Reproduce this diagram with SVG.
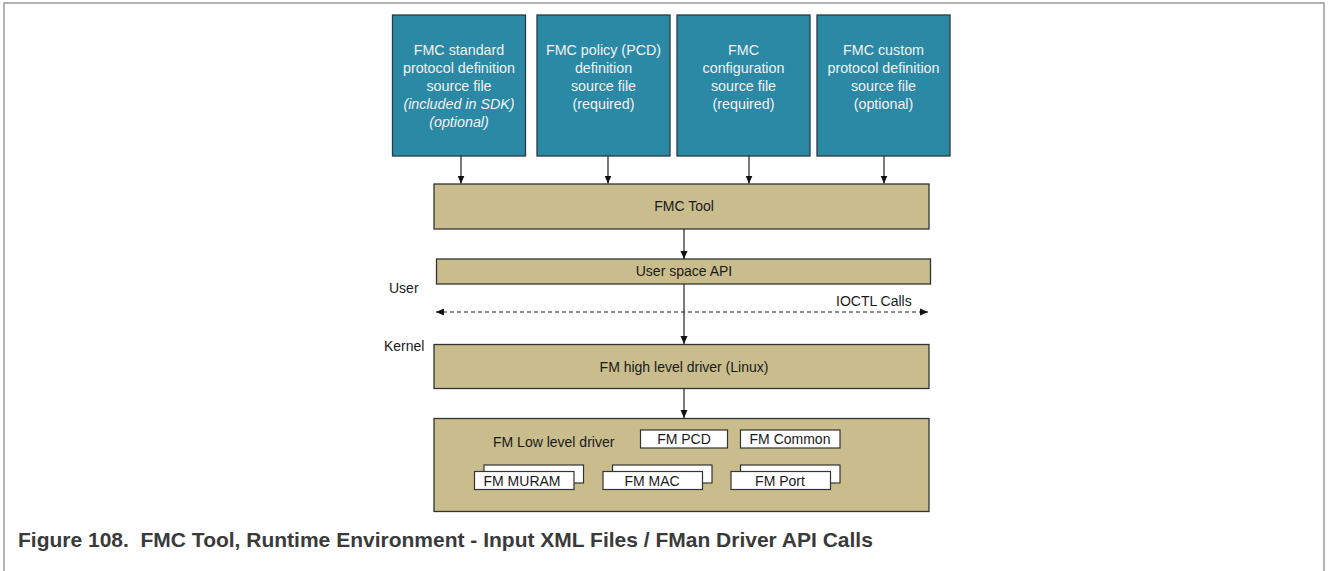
<svg xmlns="http://www.w3.org/2000/svg" width="1328" height="571" viewBox="0 0 1328 571">
<style>
text{font-family:"Liberation Sans",Arial,sans-serif;font-size:14px;}
.src rect{fill:#2b89a6;stroke:#2a3a40;stroke-width:1.3;}
.src text{fill:#f2f2f2;text-anchor:middle;font-size:14.3px;}
.tan{fill:#c9bd8d;stroke:#333;stroke-width:1.3;}
.lbl{fill:#1a1a1a;}
.mid{text-anchor:middle;}
.sub{fill:#fff;stroke:#333;stroke-width:1.2;}
.conn{stroke:#222;stroke-width:1.2;fill:none;}
.it{font-style:italic;}
</style>
<defs>
<marker id="ah" markerUnits="userSpaceOnUse" markerWidth="8" markerHeight="8" refX="8" refY="4" orient="auto-start-reverse">
<path d="M0,0.5 L8,4 L0,7.5 z" fill="#111"/>
</marker>
</defs>
<rect x="4" y="3" width="1320" height="580" fill="#fff" stroke="#8c8c8c" stroke-width="1.3"/>

<g id="src1" class="src">
<rect x="392.5" y="15" width="133" height="141"/>
<text x="459" y="55">FMC standard</text>
<text x="459" y="73">protocol definition</text>
<text x="459" y="91">source file</text>
<text x="459" y="109" class="it">(included in SDK)</text>
<text x="459" y="127" class="it">(optional)</text>
</g>
<g id="src2" class="src">
<rect x="537" y="15" width="133" height="141"/>
<text x="603.5" y="55">FMC policy (PCD)</text>
<text x="603.5" y="73">definition</text>
<text x="603.5" y="91">source file</text>
<text x="603.5" y="109">(required)</text>
</g>
<g id="src3" class="src">
<rect x="677" y="15" width="133" height="141"/>
<text x="743.5" y="55">FMC</text>
<text x="743.5" y="73">configuration</text>
<text x="743.5" y="91">source file</text>
<text x="743.5" y="109">(required)</text>
</g>
<g id="src4" class="src">
<rect x="817" y="15" width="133" height="141"/>
<text x="883.5" y="55">FMC custom</text>
<text x="883.5" y="73">protocol definition</text>
<text x="883.5" y="91">source file</text>
<text x="883.5" y="109">(optional)</text>
</g>

<g id="fmctool">
<rect class="tan" x="434" y="184" width="495" height="45"/>
<text class="lbl mid" x="684" y="211">FMC Tool</text>
</g>
<g id="userapi">
<rect class="tan" x="436.5" y="259" width="494" height="25"/>
<text class="lbl mid" x="684" y="276">User space API</text>
</g>
<g id="user-label"><text class="lbl" x="389" y="293">User</text></g>
<g id="kernel-label"><text class="lbl" x="384" y="351">Kernel</text></g>
<g id="ioctl-label"><text class="lbl" x="836" y="306">IOCTL Calls</text></g>
<g id="highdrv">
<rect class="tan" x="434" y="344.5" width="495" height="44"/>
<text class="lbl mid" x="684" y="371.5">FM high level driver (Linux)</text>
</g>
<g id="lowdrv">
<rect class="tan" x="434" y="418.5" width="495" height="93"/>
<text class="lbl" x="493" y="447">FM Low level driver</text>
</g>
<g id="fmpcd">
<rect class="sub" x="640.5" y="430" width="87" height="18"/>
<text class="lbl mid" x="684" y="444">FM PCD</text>
</g>
<g id="fmcommon">
<rect class="sub" x="740.5" y="430" width="99.5" height="18"/>
<text class="lbl mid" x="790" y="444">FM Common</text>
</g>
<g id="fmmuram">
<rect class="sub" x="484" y="465" width="99.5" height="18"/>
<rect class="sub" x="474.5" y="471.5" width="99.5" height="18"/>
<text class="lbl mid" x="522" y="486">FM MURAM</text>
</g>
<g id="fmmac">
<rect class="sub" x="612.5" y="465" width="99.5" height="18"/>
<rect class="sub" x="603" y="471.5" width="99.5" height="18"/>
<text class="lbl mid" x="652" y="486">FM MAC</text>
</g>
<g id="fmport">
<rect class="sub" x="740.5" y="465" width="99.5" height="18"/>
<rect class="sub" x="731" y="471.5" width="99.5" height="18"/>
<text class="lbl mid" x="780" y="486">FM Port</text>
</g>

<g id="connectors" class="conn">
<line x1="461" y1="156" x2="461" y2="183.5" marker-end="url(#ah)"/>
<line x1="608" y1="156" x2="608" y2="183.5" marker-end="url(#ah)"/>
<line x1="749" y1="156" x2="749" y2="183.5" marker-end="url(#ah)"/>
<line x1="884" y1="156" x2="884" y2="183.5" marker-end="url(#ah)"/>
<line x1="684" y1="229" x2="684" y2="259" marker-end="url(#ah)"/>
<line x1="684" y1="284" x2="684" y2="344" marker-end="url(#ah)"/>
<line x1="684" y1="388.5" x2="684" y2="418" marker-end="url(#ah)"/>
<line x1="436" y1="312" x2="928" y2="312" stroke-dasharray="4,3" marker-start="url(#ah)" marker-end="url(#ah)"/>
</g>

<g id="caption">
<text x="18" y="547" xml:space="preserve" style="font-size:21px;font-weight:bold;fill:#3a3a3a;white-space:pre;">Figure 108.  FMC Tool, Runtime Environment - Input XML Files / FMan Driver API Calls</text>
</g>
</svg>
